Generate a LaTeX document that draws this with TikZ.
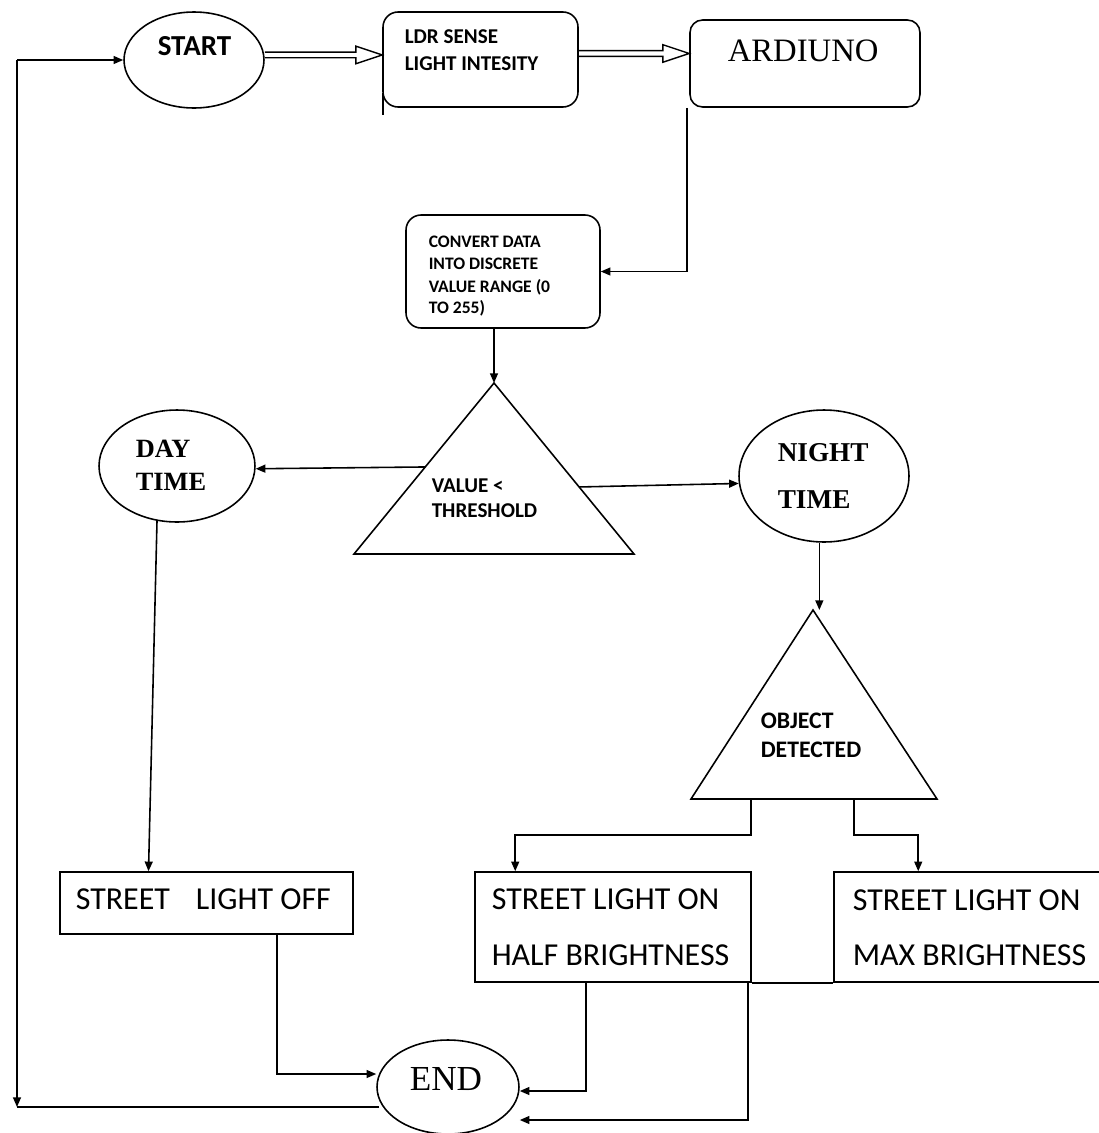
\documentclass[tikz,border=0pt]{standalone}
\usepackage{fontspec}
\newfontfamily\carl{Carlito}
\newfontfamily\tms{Liberation Serif}
\usetikzlibrary{shapes.geometric,calc,arrows.meta}
\newcommand\fsz[1]{\fontsize{#1}{#1}\selectfont}
\newcommand\dblarrow[3]{\draw[line width=0.8pt, line join=miter] let \p1=(#1), \p2=(#2) in
  (\x1,\y2+#3+1.6pt) -- (\x2-15pt,\y2+#3+1.6pt) -- (\x2-15pt,\y2+#3+5pt) -- (\x2,\y2+#3)
  -- (\x2-15pt,\y2+#3-5pt) -- (\x2-15pt,\y2+#3-1.6pt) -- (\x1,\y2+#3-1.6pt);}
\begin{document}
\begin{tikzpicture}[x=0.02cm,y=-0.02cm, line width=0.9pt,
  shp/.style={draw, inner sep=0pt},
  rbox/.style={shp, rectangle, rounded corners=0.3cm},
  sbox/.style={shp, rectangle},
  oval/.style={shp, ellipse},
  lbl/.style={anchor=base west, inner sep=0pt},
  sml/.style={lbl, font=\carl\bfseries\fsz{10}},
  big/.style={lbl, font=\carl\fsz{18.2}},
  arr/.style={-{Triangle[length=5.5pt,width=4.5pt]}},
]
\useasboundingbox (0,0) rectangle (1099,1133);

% shapes
\node[oval, minimum width=2.8cm, minimum height=1.92cm] (start) at (194,60) {};
\node[rbox, minimum width=3.9cm, minimum height=1.9cm] (ldr) at (480.5,59.5) {};
\node[rbox, rounded corners=0.25cm, minimum width=4.6cm, minimum height=1.74cm] (ard) at (805,63.5) {};
\node[rbox, minimum width=3.88cm, minimum height=2.26cm] (conv) at (503,271.5) {};
\node[oval, minimum width=3.12cm, minimum height=2.24cm] (day) at (177,466) {};
\node[oval, minimum width=3.4cm, minimum height=2.64cm] (night) at (824,476) {};
\node[sbox, minimum width=5.86cm, minimum height=1.24cm] (offbox) at (206.5,903) {};
\node[sbox, minimum width=5.52cm, minimum height=2.2cm] (halfbox) at (613,927) {};
\node[sbox, minimum width=5.7cm, minimum height=2.2cm] (maxbox) at (976.5,927) {};
\node[oval, minimum width=2.84cm, minimum height=1.88cm] (endn) at (448,1087) {};

\coordinate (vtA) at (494,383); \coordinate (vtL) at (354,554); \coordinate (vtR) at (634,554);
\draw (vtA) -- (vtL) -- (vtR) -- cycle;
\coordinate (otA) at (813,610); \coordinate (otL) at (691,799); \coordinate (otR) at (937,799);
\draw (otA) -- (otL) -- (otR) -- cycle;

% stray tick
\draw[line width=1.7pt] (383,93) -- (383,115);

% texts
\node[lbl, font=\carl\bfseries\fsz{16.5}] (tstart) at (157,55) {START};
\node[lbl, font=\carl\bfseries\fsz{12}] (tldr1) at (404,43) {LDR SENSE};
\node[lbl, font=\carl\bfseries\fsz{12}] (tldr2) at (404,70) {LIGHT INTESITY};
\node[lbl, font=\tms\fsz{18.6}] (tard) at (727,61) {ARDIUNO};
\node[sml] (tc1) at (428,247) {CONVERT DATA};
\node[sml] (tc2) at (428,269) {INTO DISCRETE};
\node[sml] (tc3) at (428,292) {VALUE RANGE (0};
\node[sml] (tc4) at (428,313) {TO 255)};
\node[lbl, font=\carl\bfseries\fsz{12}] (tv1) at (431,492) {VALUE <};
\node[lbl, font=\carl\bfseries\fsz{12}] (tv2) at (431,517) {THRESHOLD};
\node[lbl, font=\tms\bfseries\fsz{15}] (td1) at (135,457) {DAY};
\node[lbl, font=\tms\bfseries\fsz{15}] (td2) at (135,490) {TIME};
\node[lbl, font=\tms\bfseries\fsz{15.5}] (tn1) at (777,461) {NIGHT};
\node[lbl, font=\tms\bfseries\fsz{15.5}] (tn2) at (777,508) {TIME};
\node[lbl, font=\carl\bfseries\fsz{13.5}] (to1) at (760,728) {OBJECT};
\node[lbl, font=\carl\bfseries\fsz{13.5}] (to2) at (760,757) {DETECTED};
\node[big] (toff) at (75,909) {STREET\hspace{14.8pt}LIGHT OFF};
\node[big] (th1) at (491,909) {STREET LIGHT ON};
\node[big] (th2) at (491,965) {HALF BRIGHTNESS};
\node[big] (tm1) at (852,910) {STREET LIGHT ON};
\node[big] (tm2) at (852,965) {MAX BRIGHTNESS};
\node[lbl, font=\tms\fsz{20}] (tend) at (409,1090) {END};

% connectors
\dblarrow{start.east}{ldr.west}{2.6pt}
\dblarrow{ldr.east}{ard.west}{5.7pt}
\draw[arr] ($(ard.south west)+(-2,0)$) |- (conv.east);
\draw[arr] (conv.south -| vtA) -- (vtA);
\draw[arr] ($(vtA)!0.491!(vtL)$) -- (day.358);
\draw[arr] ($(vtA)!0.608!(vtR)$) -- (night.185);
\draw[arr] (day.250) -- ($(offbox.north)+(-58,0)$);
\draw[arr] (night.266) -- (night.266 |- otA);
\draw[arr] ($(otL)!0.244!(otR)$) -- ++(0,36) -| ($(halfbox.north west)+(41,0)$);
\draw[arr] ($(otL)!0.663!(otR)$) -- ++(0,36) -| ($(maxbox.north west)+(85,0)$);
\draw (halfbox.south east) -- (maxbox.south west);
\draw[arr] ($(offbox.south west)+(218,0)$) |- ($(endn.west)+(0,-13)$);
\draw[arr] ($(halfbox.south west)+(112,0)$) |- ($(endn.east)+(0,4)$);
\draw[arr] ($(halfbox.south east)+(-4,0)$) |- ($(endn.east)+(0,33)$);
\coordinate (lb) at (17,1107);
\coordinate (lt) at (17,60);
\draw ($(endn.west)+(3,20)$) -- (lb);
\draw[arr] (lt) -- (lb);
\draw[arr] (lt) -- (start.west);
\end{tikzpicture}
\end{document}
